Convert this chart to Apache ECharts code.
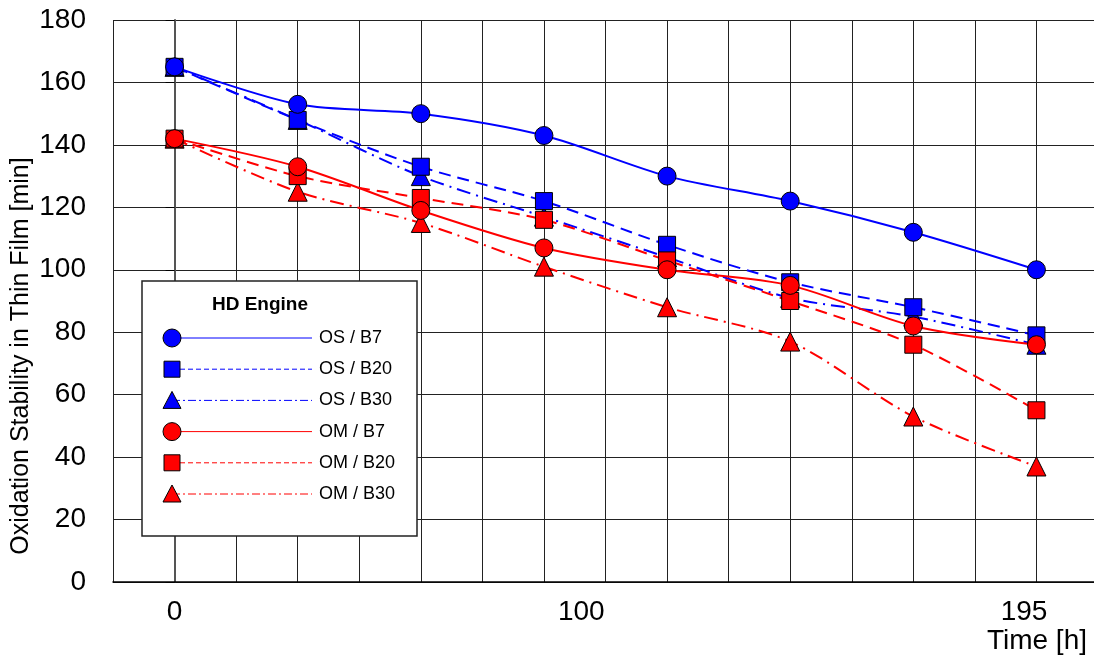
<!DOCTYPE html>
<html>
<head>
<meta charset="utf-8">
<title>Oxidation Stability in Thin Film</title>
<script src="https://cdn.jsdelivr.net/npm/echarts@6/dist/echarts.min.js"></script>
<style>
  html, body { margin: 0; padding: 0; background: #fff; overflow: hidden; }
  /* the plot area runs off the right edge of the picture, as in the original */
  #chart { width: 1100px; height: 661px; }
</style>
</head>
<body>
<div id="chart"></div>
<script>
// sampling times [h] and oxidation stability [min]
const hours = [0, 28, 56, 84, 112, 140, 168, 196];
const osB7  = [165, 153, 150, 143, 130, 122, 112, 100];
const osB20 = [165, 148, 133, 122, 108, 96, 88, 79];
const osB30 = [165, 148, 130, 117, 104, 91, 85, 76];
const omB7  = [142, 133, 119, 107, 100, 95, 82, 76];
const omB20 = [142, 130, 123, 116, 103, 90, 76, 55];
const omB30 = [142, 125, 115, 101, 88, 77, 53, 37];

const seriesNames = ['OS / B7', 'OS / B20', 'OS / B30', 'OM / B7', 'OM / B20', 'OM / B30'];
const seriesValues = [osB7, osB20, osB30, omB7, omB20, omB30];
const xTickLabels = [0, 100, 195];

const FONT = '"Liberation Sans", Arial, sans-serif';
const BLUE = '#0000ff';
const RED = '#ff0000';

// look of each series: colour, marker, line dash (plot / legend), stacking order
const looks = [
    { color: BLUE, symbol: 'circle',   size: 18, dash: 'solid',       legendDash: null,         z: 6 },
    { color: BLUE, symbol: 'rect',     size: 17, dash: [12, 7],       legendDash: [5, 3],       z: 4 },
    { color: BLUE, symbol: 'triangle', size: 19, dash: [14, 6, 2, 6], legendDash: [8, 3, 2, 3], z: 2 },
    { color: RED,  symbol: 'circle',   size: 18, dash: 'solid',       legendDash: null,         z: 7 },
    { color: RED,  symbol: 'rect',     size: 17, dash: [12, 7],       legendDash: [5, 3],       z: 5 },
    { color: RED,  symbol: 'triangle', size: 19, dash: [14, 6, 2, 6], legendDash: [8, 3, 2, 3], z: 3 }
];

const series = seriesNames.map((name, i) => ({
    name: name,
    type: 'line',
    data: hours.map((h, k) => [h, seriesValues[i][k]]),
    smooth: 0.3,
    z: looks[i].z,
    symbol: looks[i].symbol,
    symbolSize: looks[i].size,
    showAllSymbol: true,
    lineStyle: { color: looks[i].color, width: 2, type: looks[i].dash },
    itemStyle: { color: looks[i].color, borderColor: '#000', borderWidth: 1 },
    emphasis: { disabled: true },
    animation: false
}));

// boxed legend with the marker at the left end of its line
function legendMarker(type, cx, cy, color) {
    const style = { fill: color, stroke: '#000', lineWidth: 1 };
    if (type === 'circle') {
        return { type: 'circle', shape: { cx: cx, cy: cy, r: 9 }, style: style, z: 102 };
    }
    if (type === 'rect') {
        return { type: 'rect', shape: { x: cx - 8, y: cy - 8, width: 16, height: 16 }, style: style, z: 102 };
    }
    return { type: 'polygon', shape: { points: [[cx, cy - 9], [cx + 9, cy + 8], [cx - 9, cy + 8]] }, style: style, z: 102 };
}

const legendBox = { x: 142, y: 281, w: 275, h: 255 };
const legendElements = [
    {
        type: 'rect',
        shape: { x: legendBox.x, y: legendBox.y, width: legendBox.w, height: legendBox.h },
        style: { fill: '#fff', stroke: '#222', lineWidth: 1.5 },
        z: 100
    },
    {
        type: 'text',
        x: 260, y: 305,
        style: { text: 'HD Engine', fontFamily: FONT, fontSize: 19, fontWeight: 'bold', fill: '#000', align: 'center', verticalAlign: 'middle' },
        z: 101
    }
];
seriesNames.forEach((name, i) => {
    const cy = 338 + i * 31.2;
    const cx = 172;
    legendElements.push({
        type: 'line',
        shape: { x1: cx, y1: cy, x2: 312, y2: cy },
        style: { stroke: looks[i].color, lineWidth: 1, lineDash: looks[i].legendDash },
        z: 101
    });
    legendElements.push(legendMarker(looks[i].symbol, cx, cy, looks[i].color));
    legendElements.push({
        type: 'text',
        x: 319, y: cy,
        style: { text: name, fontFamily: FONT, fontSize: 18, fill: '#000', verticalAlign: 'middle' },
        z: 101
    });
});

const chart = echarts.init(document.getElementById('chart'));
chart.setOption({
    animation: false,
    backgroundColor: '#fff',
    textStyle: { fontFamily: FONT },
    grid: { left: 113, right: 2, top: 20, bottom: 79 },
    xAxis: {
        type: 'value',
        min: -14,
        max: 210,
        interval: 14,
        axisLine: { lineStyle: { color: '#000', width: 1.5 } },
        axisTick: { show: false },
        splitLine: { show: true, lineStyle: { color: '#222', width: 1 } },
        axisLabel: {
            customValues: xTickLabels,
            fontSize: 28,
            color: '#000',
            margin: 16,
            formatter: v => v === 100 ? '{mid|100}' : v === 195 ? '{end|195}' : String(v),
            rich: {
                mid: { fontSize: 28, color: '#000', padding: [0, 66, 0, 0] },
                end: { fontSize: 28, color: '#000', padding: [0, 16, 0, 0] }
            }
        },
        name: 'Time [h]',
        nameLocation: 'end',
        nameGap: -11,
        nameMoveOverlap: false,
        nameTextStyle: { fontSize: 28, color: '#000', align: 'right', verticalAlign: 'top', padding: [45, 0, 0, 0] }
    },
    yAxis: {
        type: 'value',
        min: 0,
        max: 180,
        interval: 20,
        axisLine: { show: true, lineStyle: { color: '#555', width: 2 } },
        axisTick: { show: true, length: 9, lineStyle: { color: '#000', width: 1 } },
        splitLine: { show: true, lineStyle: { color: '#222', width: 1 } },
        axisLabel: { fontSize: 28, color: '#000', margin: 27 },
        name: 'Oxidation Stability in Thin Film [min]',
        nameLocation: 'middle',
        nameGap: 79,
        nameMoveOverlap: false,
        nameTextStyle: { fontSize: 25, color: '#000', padding: [0, 110, 0, 0] }
    },
    series: series,
    graphic: { elements: legendElements }
});
</script>
</body>
</html>
